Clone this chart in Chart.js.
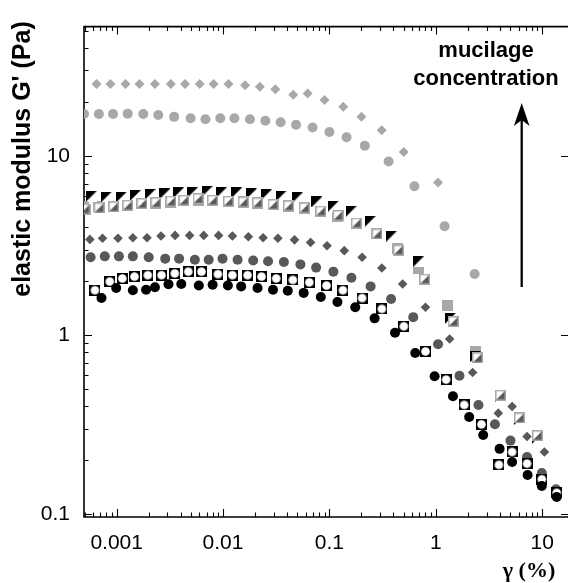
<!DOCTYPE html>
<html lang="en">
<head>
<meta charset="UTF-8">
<title>Elastic modulus vs strain</title>
<script src="https://cdn.jsdelivr.net/npm/chart.js"></script>
<style>
  html, body { margin: 0; padding: 0; background: #fff; }
  canvas { display: block; }
</style>
</head>
<body>
<canvas id="chart" width="573" height="583"></canvas>
<script>
// axis ranges and tick labels
const xRange = [4.93e-4, 17.5];
const yRange = [0.0967, 52.6];
const xTickValues = [0.001, 0.01, 0.1, 1, 10];
const xTickLabels = ['0.001', '0.01', '0.1', '1', '10'];
const yTickValues = [0.1, 1, 10];
const yTickLabels = ['0.1', '1', '10'];

// black circles
const blackCircX = [0.00072, 0.00099, 0.00142, 0.00189, 0.00229, 0.00307, 0.00405, 0.00592, 0.00798, 0.0111, 0.0148, 0.0211, 0.0295, 0.0406, 0.0573, 0.083, 0.119, 0.175, 0.266, 0.414, 0.641, 0.975, 1.45, 2.06, 2.79, 3.98, 5.22, 7.30, 9.93, 13.7];
const blackCircY = [1.61, 1.83, 1.78, 1.79, 1.85, 1.92, 1.93, 1.89, 1.91, 1.89, 1.87, 1.83, 1.79, 1.77, 1.72, 1.63, 1.53, 1.43, 1.24, 1.03, 0.795, 0.589, 0.456, 0.349, 0.277, 0.232, 0.196, 0.166, 0.144, 0.125];

// squares with open circle
const openSqX = [0.000624, 0.000861, 0.00113, 0.00147, 0.00196, 0.00264, 0.00352, 0.00471, 0.00627, 0.00895, 0.01225, 0.0170, 0.0230, 0.0316, 0.0453, 0.0647, 0.094, 0.134, 0.203, 0.311, 0.501, 0.80, 1.25, 1.85, 2.69, 3.92, 5.22, 7.21, 9.93, 13.7];
const openSqY = [1.78, 1.99, 2.07, 2.12, 2.16, 2.16, 2.21, 2.26, 2.26, 2.19, 2.16, 2.16, 2.12, 2.07, 2.03, 1.97, 1.89, 1.78, 1.61, 1.40, 1.12, 0.811, 0.565, 0.408, 0.318, 0.189, 0.223, 0.192, 0.157, 0.132];

// dark grey circles
const darkCircX = [0.000569, 0.000773, 0.00105, 0.00142, 0.0020, 0.00286, 0.00386, 0.00543, 0.00733, 0.00989, 0.0137, 0.0192, 0.0265, 0.0373, 0.0534, 0.075, 0.109, 0.161, 0.244, 0.38, 0.614, 1.05, 1.67, 2.52, 3.60, 5.04, 7.21, 9.93, 13.5];
const darkCircY = [2.72, 2.75, 2.75, 2.75, 2.72, 2.67, 2.67, 2.63, 2.63, 2.67, 2.63, 2.61, 2.58, 2.56, 2.48, 2.38, 2.26, 2.09, 1.87, 1.59, 1.26, 0.89, 0.593, 0.408, 0.318, 0.258, 0.209, 0.170, 0.138];

// dark grey diamonds
const darkDiamX = [0.00056, 0.000736, 0.00103, 0.00142, 0.00193, 0.00261, 0.00354, 0.00485, 0.00659, 0.00908, 0.01225, 0.0173, 0.0238, 0.0328, 0.047, 0.0665, 0.095, 0.138, 0.203, 0.311, 0.488, 0.80, 1.35, 2.22, 3.87, 5.22, 7.21, 10.5];
const darkDiamY = [3.42, 3.47, 3.47, 3.49, 3.49, 3.57, 3.60, 3.60, 3.60, 3.60, 3.57, 3.54, 3.49, 3.47, 3.40, 3.29, 3.15, 2.96, 2.72, 2.37, 1.93, 1.43, 0.951, 0.619, 0.367, 0.400, 0.272, 0.223];

// squares, black upper triangle
const blackTriX = [0.000582, 0.0008, 0.00111, 0.0015, 0.00206, 0.00284, 0.0038, 0.0052, 0.00707, 0.00975, 0.0134, 0.0185, 0.0255, 0.0352, 0.0497, 0.0762, 0.109, 0.160, 0.242, 0.386, 0.683, 1.37, 2.38, 4.07, 6.11, 9.03];
const blackTriY = [5.97, 5.89, 5.89, 6.01, 6.08, 6.14, 6.21, 6.27, 6.32, 6.27, 6.21, 6.14, 6.06, 5.97, 5.82, 5.53, 5.24, 4.89, 4.31, 3.57, 2.56, 1.24, 0.759, 0.455, 0.338, 0.266];

// squares, dark grey lower triangle
const greyTriX = [0.000504, 0.000684, 0.000938, 0.00127, 0.00173, 0.00234, 0.00323, 0.00429, 0.00583, 0.00798, 0.01125, 0.0155, 0.0211, 0.0295, 0.0413, 0.0582, 0.083, 0.1205, 0.1795, 0.28, 0.445, 0.787, 1.46, 2.47, 4.07, 6.11, 9.03];
const greyTriY = [5.05, 5.13, 5.20, 5.30, 5.42, 5.48, 5.58, 5.65, 5.77, 5.65, 5.58, 5.53, 5.47, 5.35, 5.26, 5.13, 4.92, 4.65, 4.22, 3.67, 2.98, 2.05, 1.19, 0.747, 0.462, 0.345, 0.275];

// light grey squares
const lightSqX = [0.00049, 0.00068, 0.00094, 0.00127, 0.00173, 0.00234, 0.00323, 0.00429, 0.00583, 0.00798, 0.0113, 0.0155, 0.0211, 0.0295, 0.0413, 0.0582, 0.083, 0.12, 0.18, 0.28, 0.44, 0.683, 1.30, 2.38];
const lightSqY = [5.2, 5.2, 5.25, 5.3, 5.4, 5.45, 5.5, 5.6, 5.65, 5.6, 5.55, 5.5, 5.45, 5.35, 5.25, 5.1, 4.9, 4.6, 4.2, 3.7, 3.05, 2.34, 1.46, 0.808];

// light grey circles
const lightCircX = [0.000493, 0.00068, 0.000924, 0.00127, 0.00178, 0.00246, 0.00347, 0.00496, 0.00683, 0.00942, 0.0128, 0.0179, 0.025, 0.0348, 0.0486, 0.0695, 0.1, 0.145, 0.215, 0.36, 0.63, 1.21, 2.32];
const lightCircY = [17.1, 17.1, 17.1, 17.2, 17.1, 16.9, 16.5, 16.2, 16.0, 16.2, 16.2, 16.0, 15.7, 15.4, 14.9, 14.4, 13.6, 12.7, 11.4, 9.3, 6.76, 4.05, 2.19];

// light grey diamonds
const lightDiamX = [0.000647, 0.000874, 0.00121, 0.00164, 0.00229, 0.00323, 0.00439, 0.00604, 0.00816, 0.01125, 0.0161, 0.0222, 0.031, 0.0457, 0.0624, 0.09, 0.135, 0.2, 0.31, 0.5, 1.05];
const lightDiamY = [25.2, 25.2, 25.2, 25.2, 25.2, 25.2, 25.2, 25.2, 25.2, 25.2, 24.8, 24.3, 23.5, 21.9, 22.3, 20.5, 18.8, 16.5, 13.9, 10.5, 7.11];

const BLACK = '#000000';
const DARK = '#585858';
const LIGHT = '#a8a8a8';

function pairs(xs, ys) {
    return xs.map((x, i) => ({ x: x, y: ys[i] }));
}

// small canvases used as point styles for the split squares
function marker(draw) {
    const c = document.createElement('canvas');
    c.width = 11;
    c.height = 11;
    draw(c.getContext('2d'));
    return c;
}

const openSqMarker = marker(g => {
    g.fillStyle = BLACK;
    g.fillRect(0, 0, 11, 11);
    g.fillStyle = '#fff';
    g.beginPath();
    g.arc(5.5, 5.5, 4.3, 0, Math.PI * 2);
    g.fill();
});

const blackTriMarker = marker(g => {
    g.fillStyle = '#fff';
    g.fillRect(0, 0, 11, 11);
    g.fillStyle = BLACK;
    g.beginPath();
    g.moveTo(0, 0); g.lineTo(11, 0); g.lineTo(0, 11);
    g.closePath();
    g.fill();
});

const greyTriMarker = marker(g => {
    g.fillStyle = '#fff';
    g.fillRect(0, 0, 11, 11);
    g.fillStyle = DARK;
    g.beginPath();
    g.moveTo(11, 0); g.lineTo(11, 11); g.lineTo(0, 11);
    g.closePath();
    g.fill();
    g.strokeStyle = LIGHT;
    g.lineWidth = 1.5;
    g.strokeRect(0.75, 0.75, 9.5, 9.5);
});

const lightSqMarker = marker(g => {
    g.fillStyle = LIGHT;
    g.fillRect(0, 0, 11, 11);
});

function series(xs, ys, style, color, radius) {
    return {
        data: pairs(xs, ys),
        pointStyle: style,
        pointRadius: radius || 5,
        pointBackgroundColor: color || BLACK,
        pointBorderWidth: 0,
        showLine: false
    };
}

// first dataset is drawn on top
const datasets = [
    series(greyTriX, greyTriY, greyTriMarker),
    series(blackTriX, blackTriY, blackTriMarker),
    series(lightSqX, lightSqY, lightSqMarker),
    series(blackCircX, blackCircY, 'circle', BLACK),
    series(openSqX, openSqY, openSqMarker),
    series(darkCircX, darkCircY, 'circle', DARK),
    series(darkDiamX, darkDiamY, 'rectRot', DARK, 4.8),
    series(lightCircX, lightCircY, 'circle', LIGHT),
    series(lightDiamX, lightDiamY, 'rectRot', LIGHT)
];

function logMarks(scale) {
    const out = [];
    const lo = Math.floor(Math.log10(scale.min));
    const hi = Math.ceil(Math.log10(scale.max));
    for (let e = lo; e <= hi; e++) {
        for (let k = 1; k < 10; k++) {
            const v = k * Math.pow(10, e);
            if (v >= scale.min && v <= scale.max) out.push({ v: v, major: k === 1 });
        }
    }
    return out;
}

// frame with inward ticks, drawn under the points
const framePlugin = {
    id: 'frame',
    beforeDatasetsDraw(chart) {
        const { ctx, chartArea: a, scales } = chart;
        ctx.save();
        ctx.strokeStyle = '#000';
        ctx.lineWidth = 1.6;
        ctx.beginPath();
        ctx.moveTo(a.right, a.top);
        ctx.lineTo(a.left, a.top);
        ctx.lineTo(a.left, a.bottom);
        ctx.lineTo(a.right, a.bottom);
        ctx.stroke();

        ctx.lineWidth = 1.1;
        ctx.beginPath();
        logMarks(scales.x).forEach(m => {
            const px = Math.round(scales.x.getPixelForValue(m.v)) + 0.5;
            const len = m.major ? 8 : 4.5;
            ctx.moveTo(px, a.bottom); ctx.lineTo(px, a.bottom - len);
            ctx.moveTo(px, a.top); ctx.lineTo(px, a.top + len);
        });
        logMarks(scales.y).forEach(m => {
            const py = Math.round(scales.y.getPixelForValue(m.v)) + 0.5;
            const len = m.major ? 8 : 4.5;
            ctx.moveTo(a.left, py); ctx.lineTo(a.left + len, py);
            if (m.major) { ctx.moveTo(a.right, py); ctx.lineTo(a.right - 7, py); }
        });
        ctx.stroke();
        ctx.restore();
    },
    afterDraw(chart) {
        const ctx = chart.ctx;
        ctx.save();
        ctx.fillStyle = '#000';

        // y title
        ctx.save();
        ctx.translate(30, 159);
        ctx.rotate(-Math.PI / 2);
        ctx.font = "bold 25px 'Liberation Sans', Arial, sans-serif";
        ctx.textAlign = 'center';
        ctx.textBaseline = 'alphabetic';
        ctx.fillText("elastic modulus G' (Pa)", 0, 0);
        ctx.restore();

        // x title
        ctx.font = "bold 22px 'Liberation Serif', 'Times New Roman', serif";
        ctx.textAlign = 'center';
        ctx.textBaseline = 'alphabetic';
        ctx.fillText('\u03b3 (%)', 529, 577);

        // annotation
        ctx.font = "bold 22px 'Liberation Sans', Arial, sans-serif";
        ctx.fillText('mucilage', 486, 57);
        ctx.fillText('concentration', 486, 85);

        ctx.strokeStyle = '#000';
        ctx.lineWidth = 2.3;
        ctx.beginPath();
        ctx.moveTo(521.7, 287);
        ctx.lineTo(521.7, 118);
        ctx.stroke();
        ctx.beginPath();
        ctx.moveTo(521.7, 103);
        ctx.lineTo(529.5, 126);
        ctx.lineTo(521.7, 120);
        ctx.lineTo(513.9, 126);
        ctx.closePath();
        ctx.fill();
        ctx.restore();
    }
};

const tickFont = { family: "'Liberation Sans', Arial, sans-serif", size: 21 };

new Chart(document.getElementById('chart'), {
    type: 'scatter',
    data: { datasets: datasets },
    options: {
        responsive: false,
        animation: false,
        devicePixelRatio: 1,
        layout: { padding: { top: 13, left: 0, right: 0, bottom: 0 } },
        plugins: { legend: { display: false }, tooltip: { enabled: false } },
        scales: {
            x: {
                type: 'logarithmic',
                min: xRange[0],
                max: xRange[1],
                grid: { display: false, drawTicks: false },
                border: { display: false },
                afterBuildTicks: s => { s.ticks = xTickValues.map(v => ({ value: v })); },
                afterFit: s => { s.height = 66; },
                ticks: {
                    autoSkip: false, maxRotation: 0, padding: 14, color: '#000', font: tickFont,
                    callback: (v, i) => xTickLabels[i]
                }
            },
            y: {
                type: 'logarithmic',
                min: yRange[0],
                max: yRange[1],
                grid: { display: false, drawTicks: false },
                border: { display: false },
                afterBuildTicks: s => { s.ticks = yTickValues.map(v => ({ value: v })); },
                afterFit: s => { s.width = 84; },
                ticks: {
                    autoSkip: false, padding: 14, color: '#000', font: tickFont,
                    callback: (v, i) => yTickLabels[i]
                }
            }
        }
    },
    plugins: [framePlugin]
});
</script>
</body>
</html>
